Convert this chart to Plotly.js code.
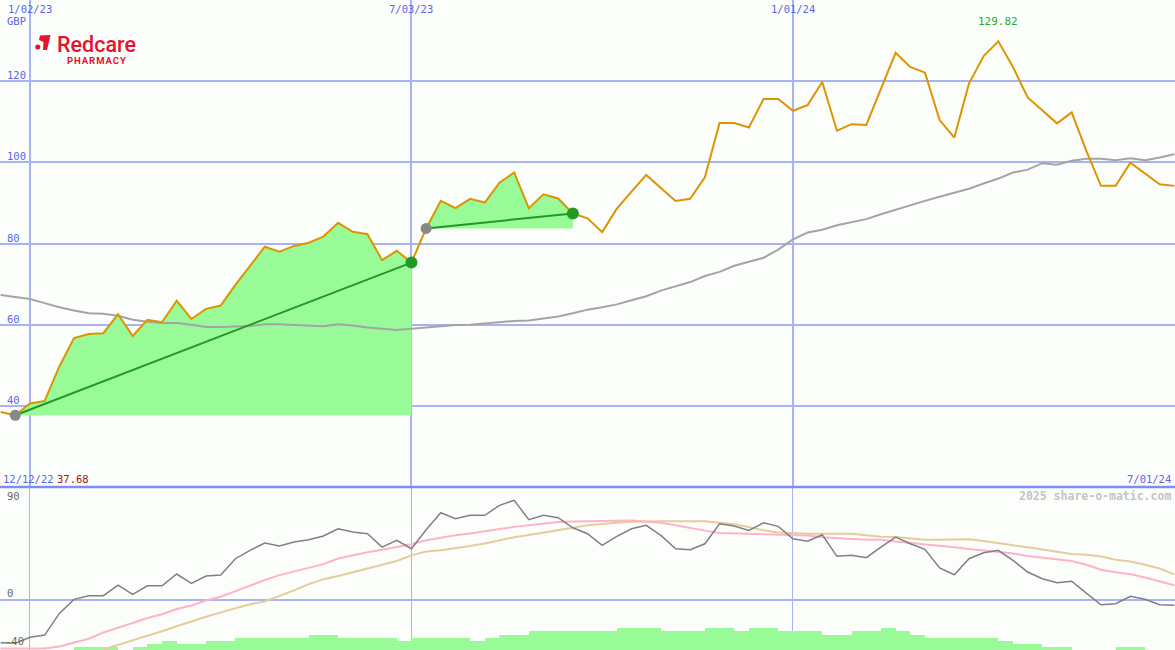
<!DOCTYPE html>
<html><head><meta charset="utf-8">
<script src="https://cdn.plot.ly/plotly-3.0.1.min.js"></script>
<style>html,body{margin:0;padding:0;background:#fcfefc;} #chart{width:1175px;height:650px;}</style>
</head><body><div id="chart"></div>
<script>
// ---- DATA (weekly, starting 2022-12-19) ----
const firstWeek = '2022-12-19';
const price = [38.5,37.68,40.6,41.2,49.7,56.7,57.7,57.9,62.6,57.2,
  61.2,60.6,65.9,61.4,63.9,64.7,69.8,74.5,79.2,78.0,
  79.4,80.2,81.7,85.1,82.9,82.3,75.9,78.2,75.3,83.7,
  90.5,88.7,91.0,90.1,95.0,97.5,88.7,92.1,91.1,87.4,
  86.2,82.8,88.6,92.8,96.9,93.7,90.5,91.0,96.3,109.7,
  109.7,108.6,115.6,115.6,112.7,114.1,119.8,107.8,109.4,109.2,
  118.3,127.0,123.5,122.1,110.4,106.1,119.4,126.2,129.82,123.5,
  116.0,112.9,109.6,112.3,102.8,94.2,94.2,99.9,97.3,94.6,94.2];
const priceAvg = [67.3,66.8,66.3,65.3,64.3,63.5,62.8,62.7,62.2,61.2,
  60.7,60.4,60.4,60.0,59.4,59.4,59.5,59.7,60.1,60.1,
  59.9,59.7,59.6,60.1,59.8,59.3,59.0,58.7,59.0,59.3,
  59.6,59.9,60.0,60.3,60.6,60.9,61.0,61.5,62.0,62.8,
  63.7,64.3,65.0,66.0,67.0,68.4,69.4,70.5,72.0,73.0,
  74.5,75.5,76.5,78.5,81.0,82.7,83.4,84.5,85.2,86.0,
  87.2,88.3,89.5,90.5,91.5,92.5,93.5,94.8,96.0,97.5,
  98.2,99.8,99.4,100.4,100.9,100.9,100.5,101.0,100.5,101.2,102.0];
const oscillator = [-34.2,-34.7,-29.9,-28.1,-10.8,0.4,3.3,3.3,11.8,4.4,
  11.2,11.2,20.6,13.2,19.0,19.8,32.8,39.5,45.3,42.9,
  46.1,47.9,50.9,56.7,54.1,52.7,42.1,47.5,40.8,55.9,
  69.5,64.7,67.4,67.4,75.4,79.4,63.9,67.4,65.5,57.5,
  52.7,43.5,50.6,56.7,59.4,51.4,40.8,40.0,44.7,60.7,
  58.9,55.4,61.5,58.6,48.7,46.7,51.9,34.7,35.5,33.6,
  42.1,50.1,44.7,40.3,25.4,20.0,32.8,37.6,39.5,31.5,
  22.2,16.8,13.6,14.8,5.4,-3.9,-3.1,2.8,0.4,-3.9,-4.4];
const oscFast = [-38.8,-38.8,-38.8,-38.8,-37.2,-34.0,-31.0,-26.0,-22.5,-18.5,
  -14.5,-11.5,-7.3,-4.5,-0.5,2.5,7.0,11.5,15.8,19.7,
  22.5,25.2,28.5,33.0,35.8,38.0,39.9,42.0,44.3,47.5,
  49.7,51.5,53.0,55.0,56.5,58.2,59.5,61.0,62.1,62.4,
  62.6,62.8,63.4,63.2,62.4,61.5,59.5,57.2,55.2,53.4,
  53.0,52.7,52.4,52.0,51.7,51.3,50.0,49.0,48.5,48.0,
  47.9,46.5,45.5,44.5,43.5,42.0,40.5,39.5,38.2,37.0,
  35.0,33.5,32.0,31.0,28.0,24.0,22.0,20.5,17.8,15.0,11.6];
const oscSlow = [null,null,null,null,null,null,null,-39.5,-36.0,-32.0,
  -29.0,-25.0,-21.0,-17.0,-13.5,-10.0,-7.0,-3.5,-1.3,3.0,
  7.5,12.5,16.5,19.0,22.0,25.0,27.8,31.0,35.5,38.5,
  39.5,41.0,43.0,45.0,47.5,50.0,51.7,53.5,55.2,57.5,
  59.5,60.7,61.5,62.2,62.6,62.6,62.6,62.6,62.6,61.5,
  60.2,58.0,55.5,53.8,53.2,52.7,52.7,52.7,52.7,51.5,
  50.3,50.1,49.0,48.0,47.9,48.3,48.3,47.0,45.0,43.5,
  42.0,40.0,38.5,36.5,36.0,34.5,32.0,30.5,28.0,25.0,20.3];
const flowBars = [null,null,null,null,null,-37.6,-37.6,-37.6,null,-37.6,
  -35.0,-32.9,-35.0,-35.0,-32.9,-32.9,-30.5,-30.5,-30.5,-30.5,
  -30.5,-27.8,-27.8,-30.5,-30.5,-30.5,-30.5,-32.9,-30.5,-30.5,
  -30.5,-30.5,-32.9,-30.5,-27.8,-27.8,-24.9,-24.9,-24.9,-24.9,
  -24.9,-24.9,-22.5,-22.5,-22.5,-24.9,-24.9,-24.9,-22.5,-22.5,
  -24.9,-22.5,-22.5,-24.9,-24.9,-24.9,-27.8,-27.8,-24.9,-24.9,
  -22.5,-24.9,-27.8,-30.5,-30.5,-30.5,-30.5,-30.5,-32.9,-35.0,
  -35.0,-37.6,-37.6,null,null,null,-37.6,-37.6,null,null,null];
const gridDates = ['2023-01-02','2023-07-03','2024-01-01'];
const gridDateLabels = ['1/02/23','7/03/23','1/01/24'];
const priceTicks = [40,60,80,100,120];
const oscTicks = [90,0,-40];
const trendSpans = [[1,28],[29,39]];
const currency = 'GBP';
const firstDateLabel = '12/12/22';
const lastDateLabel = '7/01/24';
const credit = '2025 share-o-matic.com';

// ---- helpers ----
const DAY = 86400000;
const t0 = Date.parse(firstWeek + 'T00:00:00Z');
function iso(ms){ return new Date(ms).toISOString().slice(0,19).replace('T',' '); }
const dates = price.map((_, k) => iso(t0 + k*7*DAY));
const W = 1175, H = 650, splitPx = 487;
const botFrac = (H - splitPx) / H;
const px = x => x / W, py = y => 1 - y / H;
const xRange = [iso(Date.parse('2023-01-02T00:00:00Z') - 14.31*DAY), iso(Date.parse('2023-01-02T00:00:00Z') + 546.3*DAY)];

const GRID = '#a9b3f3', BLUE = '#5866ee', GREEN = '#98fb98', DKGREEN = '#229922';
const MONO = 'DejaVu Sans Mono';

const traces = [];
// fills
trendSpans.forEach(([a,b]) => {
  const base = price[a];
  traces.push({x: dates.slice(a,b+1).concat([dates[b], dates[a]]),
    y: price.slice(a,b+1).concat([base, base]),
    mode:'lines', fill:'toself', fillcolor:GREEN, line:{width:0}, hoverinfo:'skip', xaxis:'x', yaxis:'y'});
});
// price moving average
traces.push({x:dates, y:priceAvg, mode:'lines', line:{color:'#a4a4a4', width:2}, xaxis:'x', yaxis:'y'});
// trend lines
trendSpans.forEach(([a,b]) => {
  traces.push({x:[dates[a],dates[b]], y:[price[a],price[b]], mode:'lines', line:{color:DKGREEN, width:2}, xaxis:'x', yaxis:'y'});
});
// price
traces.push({x:dates, y:price, mode:'lines', line:{color:'#dd9400', width:2}, xaxis:'x', yaxis:'y'});
// markers
traces.push({x:trendSpans.map(s=>dates[s[0]]), y:trendSpans.map(s=>price[s[0]]), mode:'markers', marker:{color:'#888888', size:11}, xaxis:'x', yaxis:'y'});
traces.push({x:trendSpans.map(s=>dates[s[1]]), y:trendSpans.map(s=>price[s[1]]), mode:'markers', marker:{color:DKGREEN, size:12}, xaxis:'x', yaxis:'y'});

// bottom panel
traces.push({type:'bar', x:dates, y:flowBars.map(v => v===null?null:v+40), base:-40, offset:0, width:7*DAY,
  marker:{color:GREEN, line:{width:0}}, xaxis:'x2', yaxis:'y2'});
traces.push({x:dates, y:oscSlow, mode:'lines', line:{color:'#e6cc9a', width:2}, xaxis:'x2', yaxis:'y2'});
traces.push({x:dates, y:oscFast, mode:'lines', line:{color:'#ffb2c8', width:2}, xaxis:'x2', yaxis:'y2'});
traces.push({x:dates, y:oscillator, mode:'lines', line:{color:'#808080', width:1.5}, xaxis:'x2', yaxis:'y2'});

// annotations
const ann = [];
gridDates.forEach((d,i) => ann.push({xref:'x', yref:'paper', x:d, y:py(9), text:gridDateLabels[i], showarrow:false,
  xanchor:'center', yanchor:'middle', font:{family:MONO, size:10.5, color:BLUE}}));
ann.push({xref:'paper', yref:'paper', x:px(5), y:py(21), text:currency, showarrow:false, xanchor:'left', yanchor:'middle', font:{family:MONO, size:10.5, color:BLUE}});
priceTicks.forEach(v => ann.push({xref:'paper', yref:'y', x:px(5), y:v, yshift:6, text:String(v), showarrow:false, xanchor:'left', yanchor:'middle', font:{family:MONO, size:10.5, color:BLUE}}));
const oscLabelPos = {90:496, 0:593, '-40':641};
oscTicks.forEach(v => ann.push({xref:'paper', yref:'paper', x:px(v===-40?3:5), y:py(oscLabelPos[v]), text:String(v), showarrow:false, xanchor:'left', yanchor:'middle', font:{family:MONO, size:10.5, color:'#666666'}}));
ann.push({xref:'paper', yref:'paper', x:px(1), y:py(479), text:firstDateLabel, showarrow:false, xanchor:'left', yanchor:'middle', font:{family:MONO, size:10.5, color:BLUE}});
ann.push({xref:'paper', yref:'paper', x:px(55), y:py(479), text:price[trendSpans[0][0]].toFixed(2), showarrow:false, xanchor:'left', yanchor:'middle', font:{family:MONO, size:10.5, color:'#aa1111'}});
ann.push({xref:'paper', yref:'paper', x:px(1173), y:py(479), text:lastDateLabel, showarrow:false, xanchor:'right', yanchor:'middle', font:{family:MONO, size:10.5, color:BLUE}});
ann.push({xref:'paper', yref:'paper', x:px(1173), y:py(496), text:'<b>'+credit+'</b>', showarrow:false, xanchor:'right', yanchor:'middle', font:{family:MONO, size:11.5, color:'#c4c4c4'}});
const maxI = price.indexOf(Math.max(...price));
ann.push({xref:'x', yref:'y', x:dates[maxI], y:price[maxI], yshift:20, text:price[maxI].toFixed(2), showarrow:false, xanchor:'center', yanchor:'middle', font:{family:MONO, size:11, color:'#22aa22'}});
// logo
ann.push({xref:'paper', yref:'paper', x:px(96), y:py(44), text:'Redcare', showarrow:false, xanchor:'center', yanchor:'middle', font:{family:'Roboto', size:21.5, weight:500, color:'#e5132e'}});
ann.push({xref:'paper', yref:'paper', x:px(96.5), y:py(60.5), text:'<b>P\u200AH\u200AA\u200AR\u200AM\u200AA\u200AC\u200AY</b>', showarrow:false, xanchor:'center', yanchor:'middle', font:{family:'Roboto', size:9.5, color:'#e5132e'}});

function pathPx(pts){ return 'M ' + pts.map(p => px(p[0]) + ',' + py(p[1])).join(' L ') + ' Z'; }
const shapes = [
  {type:'line', xref:'paper', yref:'paper', x0:0, x1:1, y0:botFrac, y1:botFrac, line:{color:'#7e8ef0', width:2.5}},
  {type:'path', xref:'paper', yref:'paper', path:pathPx([[40,35.5],[50.5,35],[47,50],[43,50],[43.5,42],[39,40]]), fillcolor:'#e5132e', line:{width:0}},
  {type:'circle', xref:'paper', yref:'paper', x0:px(35.3), x1:px(40.3), y0:py(49.5), y1:py(44.5), fillcolor:'#e5132e', line:{width:0}}
];

const axisX = {type:'date', range:xRange, tickvals:gridDates, showticklabels:false, showgrid:true, gridcolor:GRID,
  zeroline:false, showline:false, ticks:'', fixedrange:true};
const layout = {
  width:W, height:H, margin:{l:0,r:0,t:0,b:0}, paper_bgcolor:'#fcfefc', plot_bgcolor:'#fcfefc', showlegend:false,
  bargap:0,
  xaxis:Object.assign({}, axisX, {anchor:'y', gridwidth:2}),
  xaxis2:Object.assign({}, axisX, {anchor:'y2', gridwidth:1}),
  yaxis:{domain:[botFrac,1], range:[20,140], tickvals:priceTicks, showticklabels:false, showgrid:true, gridcolor:GRID, gridwidth:2, zeroline:false, ticks:''},
  yaxis2:{domain:[0,botFrac], range:[-40,90], tickvals:[0], showticklabels:false, showgrid:true, gridcolor:GRID, gridwidth:2, zeroline:false, ticks:''},
  annotations:ann, shapes:shapes
};
Plotly.newPlot('chart', traces, layout, {staticPlot:true, displayModeBar:false});
</script></body></html>
